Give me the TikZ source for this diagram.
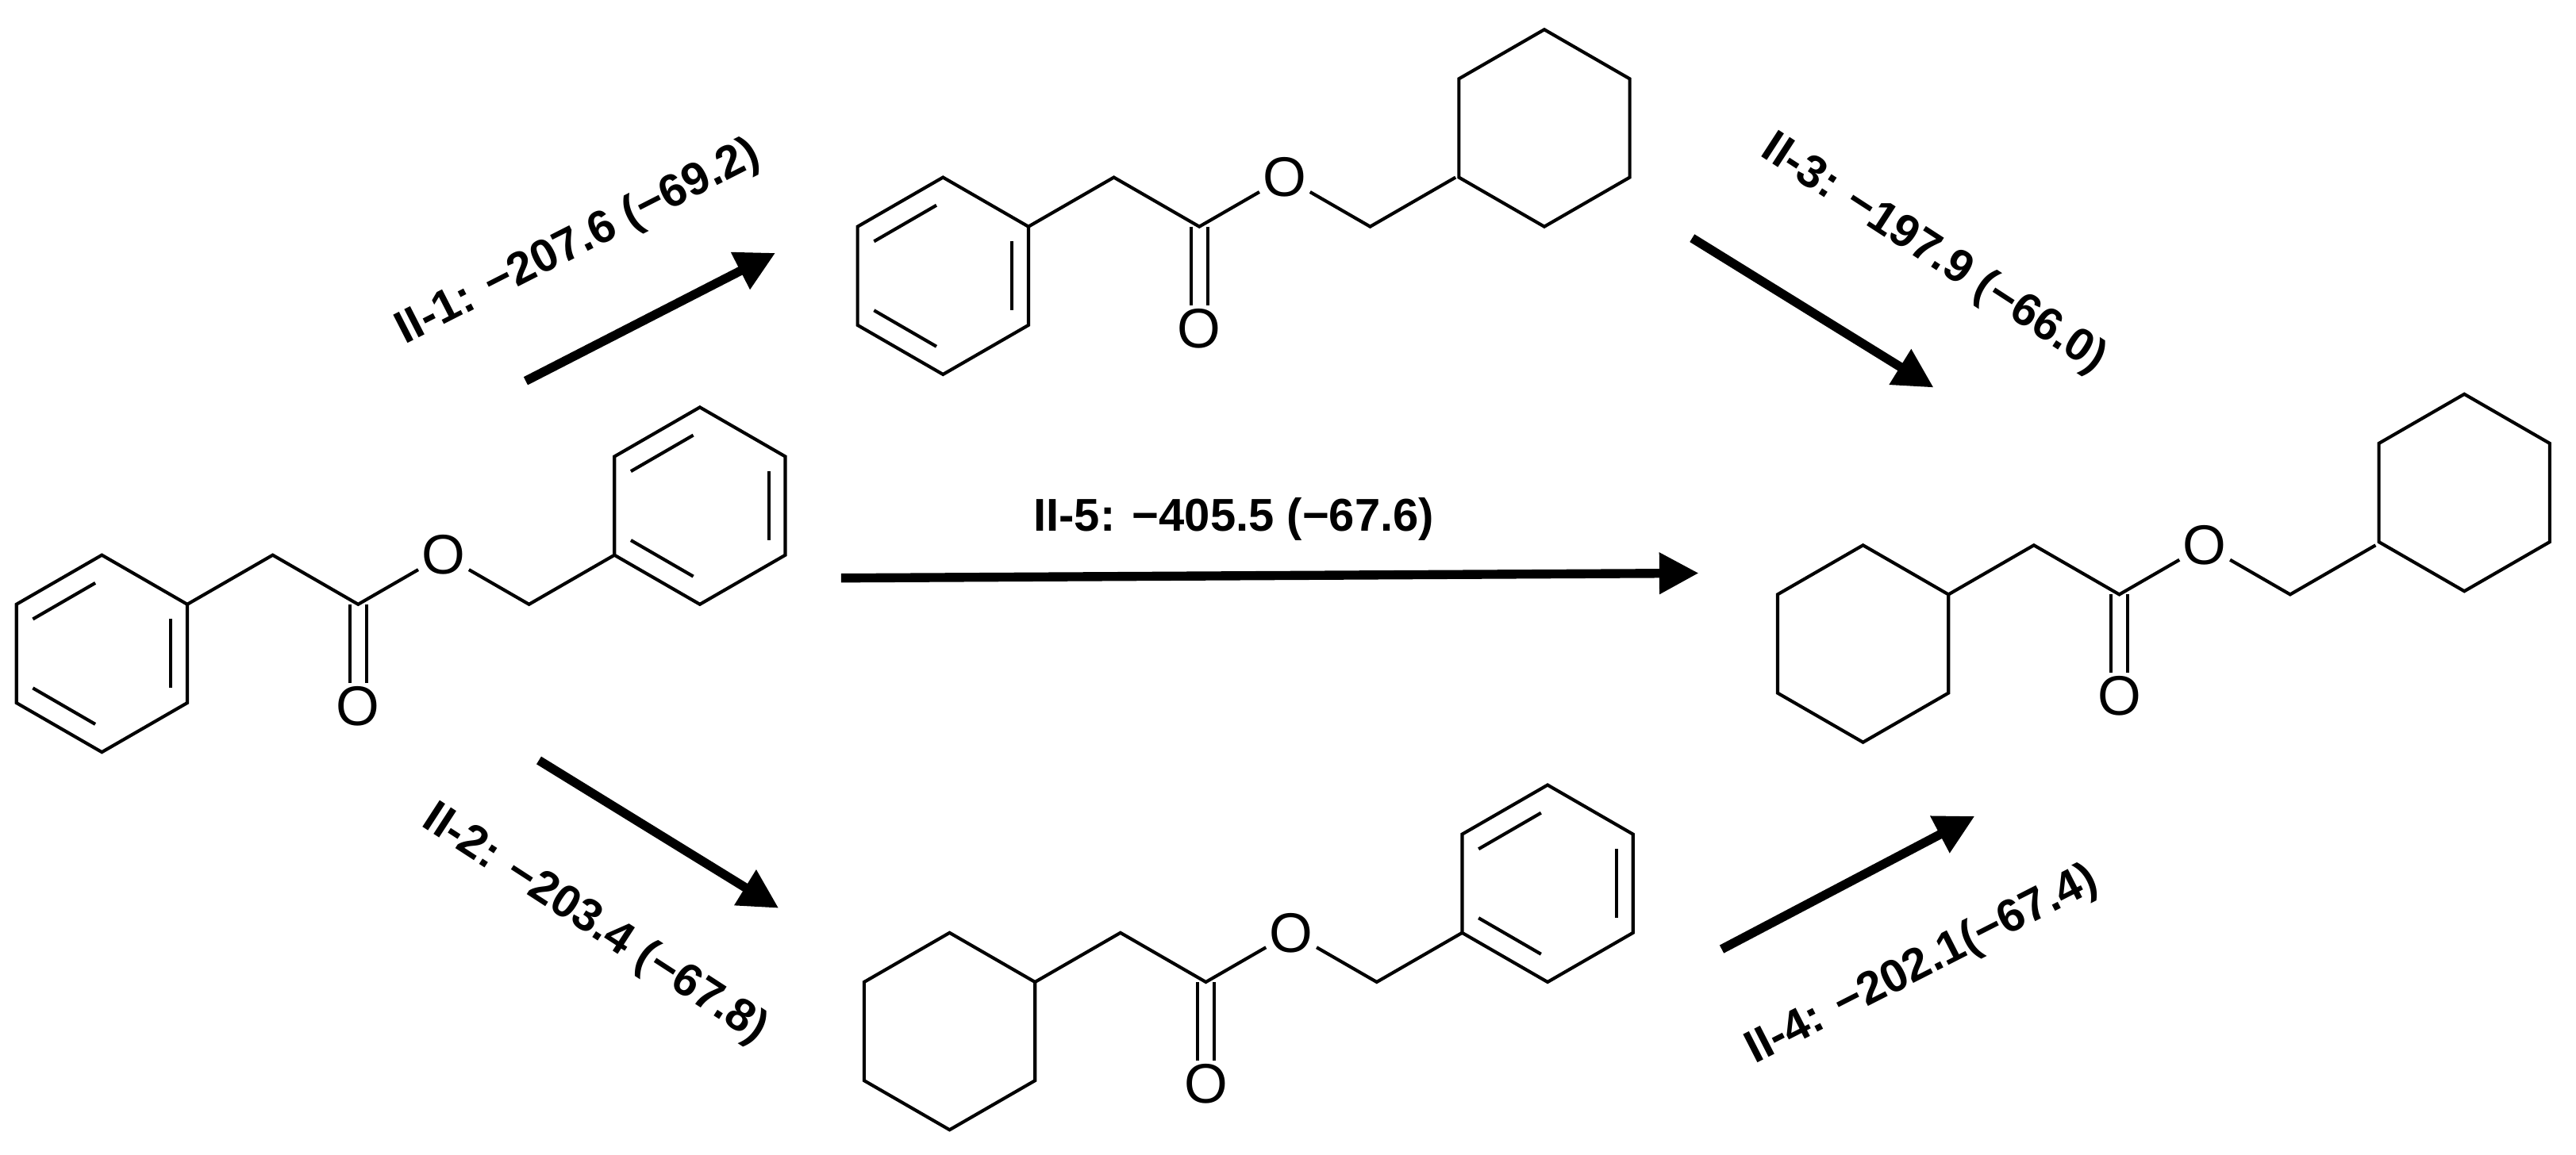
\documentclass[tikz,border=0pt]{standalone}
\usepackage{fontspec}
\setmainfont{Liberation Sans}
\usetikzlibrary{arrows.meta}
\tikzset{x=1pt,y=-1pt,
 bond/.style={line width=2pt},
 rxn/.style={line width=5.5pt,-{Triangle[length=24pt,width=24pt]}},
 lab/.style={font=\fontsize{28}{30}\selectfont\bfseries},
 oxy/.style={font=\fontsize{34}{36}\selectfont,inner sep=2pt}}
\newcommand{\hexring}[3]{%
 \draw[bond] (#1,#2-60)--(#1+52,#2-30)--(#1+52,#2+30)--(#1,#2+60)--(#1-52,#2+30)--(#1-52,#2-30)--cycle;
 \ifnum#3=1
 \draw[bond] (#1-42,#2-21)--(#1-4,#2-43);
 \draw[bond] (#1+42,#2-21)--(#1+42,#2+21);
 \draw[bond] (#1-4,#2+43)--(#1-42,#2+21);
 \fi}
\newcommand{\esterchain}[3]{%
 \coordinate (#3a) at (#1,#2);
 \coordinate (#3b) at (#1+52,#2-30);
 \coordinate (#3c) at (#1+104,#2);
 \node[oxy] (#3o) at (#1+104,#2+62) {O};
 \node[oxy] (#3e) at (#1+156,#2-30) {O};
 \coordinate (#3d) at (#1+208,#2);
 \coordinate (#3f) at (#1+260,#2-30);
 \draw[bond] (#3a)--(#3b)--(#3c)--(#3e)--(#3d)--(#3f);
 \draw[bond] ([xshift=-5pt]#3c)--([xshift=-5pt]#3o.north);
 \draw[bond] ([xshift=5pt]#3c)--([xshift=5pt]#3o.north);}
\begin{document}
\begin{tikzpicture}
\useasboundingbox (0,0) rectangle (1568,703);
\hexring{62}{398}{1}\esterchain{114}{368}{L}\hexring{426}{308}{1}
\hexring{574}{168}{1}\esterchain{626}{138}{T}\hexring{940}{78}{0}
\hexring{1134}{392}{0}\esterchain{1186}{362}{R}\hexring{1500}{300}{0}
\hexring{578}{628}{0}\esterchain{630}{598}{B}\hexring{942}{538}{1}
\coordinate (a1s) at (320,232); \coordinate (a1e) at (472,154);
\coordinate (a5s) at (512,352); \coordinate (a5e) at (1034,349);
\coordinate (a3s) at (1030,145); \coordinate (a3e) at (1177,236);
\coordinate (a2s) at (328,463); \coordinate (a2e) at (474,553);
\coordinate (a4s) at (1048,578); \coordinate (a4e) at (1202,497);
\draw[rxn] (a1s)--(a1e); \draw[rxn] (a5s)--(a5e); \draw[rxn] (a3s)--(a3e);
\draw[rxn] (a2s)--(a2e); \draw[rxn] (a4s)--(a4e);
\node[lab,rotate=27] (l1) at (352,148) {II-1: −207.6 (−69.2)};
\node[lab] (l5) at (751,316) {II-5: −405.5 (−67.6)};
\node[lab,rotate=-33] (l3) at (1177,155) {II-3: −197.9 (−66.0)};
\node[lab,rotate=-33] (l2) at (362,563) {II-2: −203.4 (−67.8)};
\node[lab,rotate=27] (l4) at (1170,588) {II-4: −202.1(−67.4)};
\end{tikzpicture}
\end{document}
